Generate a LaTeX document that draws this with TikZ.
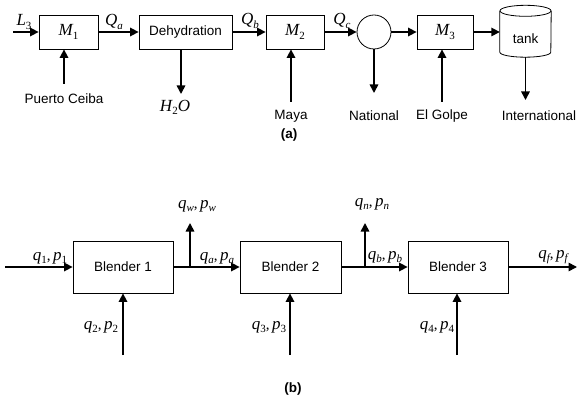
\documentclass[tikz,border=0pt]{standalone}
\usepackage{fontspec}
\setmainfont{Liberation Sans}
\newfontfamily\tms{Liberation Serif}
\usetikzlibrary{arrows.meta}
% italic serif symbol with upright or italic subscript
\newcommand\vr[1]{{\tms\itshape\fontsize{17}{17}\selectfont #1}}
\newcommand\su[1]{\raisebox{-0.45ex}{\tms\fontsize{11}{11}\selectfont #1}}
\newcommand\si[1]{\raisebox{-0.45ex}{\tms\itshape\fontsize{11}{11}\selectfont #1}}
\newcommand\cm{{\tms\fontsize{15}{15}\selectfont,\,}}
\begin{document}
\begin{tikzpicture}[x=1pt,y=-1pt,
  font=\fontsize{13.5}{15}\selectfont,
  unit/.style={draw,line width=0.8pt,minimum height=34pt,inner sep=0pt},
  blender/.style={draw,line width=0.8pt,minimum height=52pt,minimum width=100pt,inner sep=0pt},
  flow/.style={line width=1.6pt,-{Triangle[length=8.5pt,width=8.5pt]}},
  pipe/.style={line width=1.6pt},
  lbl/.style={inner sep=0pt}]
\useasboundingbox (0,0) rectangle (577,403);

% ---------- (a) crude oil flow ----------
\node[unit,minimum width=59pt] (m1) at (68.5,32) {\vr{M}\su{1}};
\node[unit,minimum width=93pt] (deh) at (185.5,32) {Dehydration};
\node[unit,minimum width=58pt] (m2) at (295,32) {\vr{M}\su{2}};
\node[draw,line width=0.8pt,circle,minimum size=34pt,inner sep=0pt] (split) at (374,32) {};
\node[unit,minimum width=56pt] (m3) at (445,32) {\vr{M}\su{3}};
\node[inner sep=0pt,minimum width=51pt,minimum height=41pt] (tank) at (525.5,31.5) {};
\node[lbl] at (525.5,39) {tank};
% storage tank outline
\draw[line width=0.8pt] (tank.north) ellipse[x radius=25.5pt,y radius=5.5pt];
\draw[line width=0.8pt] (tank.north west) -- (tank.south west)
  arc[start angle=180,end angle=360,x radius=25.5pt,y radius=5pt] -- (tank.north east);

\coordinate (l3) at (13,32);
\coordinate (pc) at (64,84);
\coordinate (h2o) at (181,94);
\coordinate (maya) at (291,102);
\coordinate (nat) at (374,93);
\coordinate (eg) at (442,102);
\coordinate (intl) at (525.5,100);

\draw[flow] (l3) -- (m1);
\draw[flow] (m1) -- (deh);
\draw[flow] (deh) -- (m2);
\draw[flow] (m2) -- (split);
\draw[flow] (split) -- (m3);
\draw[flow] (m3.east) -- (tank.west |- m3.east);
\draw[flow] (pc) -- (m1.south -| pc);
\draw[flow] (deh.south -| h2o) -- (h2o);
\draw[flow] (maya) -- (m2.south -| maya);
\draw[flow] (split.south) -- (nat);
\draw[flow] (eg) -- (m3.south -| eg);
\draw[flow] ([yshift=-5pt]tank.south) -- (intl);

\node[lbl] at (24,22) {\vr{L}\su{3}};
\node[lbl] at (114,22) {\vr{Q}\si{a}};
\node[lbl] at (250,21) {\vr{Q}\si{b}};
\node[lbl] at (342,21) {\vr{Q}\si{c}};
\node[lbl] at (64,99) {Puerto Ceiba};
\node[lbl] at (175,107) {\vr{H}\su{2}\vr{O}};
\node[lbl] at (291,116) {Maya};
\node[lbl] at (374,116) {National};
\node[lbl] at (442,116) {El Golpe};
\node[lbl] at (539,116) {International};
\node[lbl,font=\bfseries\fontsize{13.5}{15}\selectfont] at (289,135) {(a)};

% ---------- (b) blending network ----------
\node[blender] (b1) at (123,267) {Blender 1};
\node[blender,minimum width=101pt] (b2) at (290.5,267) {Blender 2};
\node[blender] (b3) at (458,267) {Blender 3};

\coordinate (in1) at (5,267);
\coordinate (ja) at (190,267);
\coordinate (jb) at (365,267);
\coordinate (wout) at (190,223);
\coordinate (nout) at (365,223);
\coordinate (fout) at (577,267);
\coordinate (in2) at (123,355);
\coordinate (in3) at (290,355);
\coordinate (in4) at (457,355);

\draw[flow] (in1) -- (b1);
\draw[pipe] (b1.east) -- (ja);
\draw[flow] (ja) -- (b2.west);
\draw[flow] (ja) -- (wout);
\draw[pipe] (b2.east) -- (jb);
\draw[flow] (jb) -- (b3.west);
\draw[flow] (jb) -- (nout);
\draw[flow] (b3.east) -- (fout);
\draw[flow] (in2) -- (b1.south -| in2);
\draw[flow] (in3) -- (b2.south -| in3);
\draw[flow] (in4) -- (b3.south -| in4);

\node[lbl] at (50,258) {\vr{q}\su{1}\cm\vr{p}\su{1}};
\node[lbl] at (217,258) {\vr{q}\si{a}\cm\vr{p}\si{a}};
\node[lbl] at (385,257) {\vr{q}\si{b}\cm\vr{p}\si{b}};
\node[lbl] at (553,257) {\vr{q}\si{f}\cm\vr{p}\si{f}};
\node[lbl] at (197,206) {\vr{q}\si{w}\cm\vr{p}\si{w}};
\node[lbl] at (372,204) {\vr{q}\si{n}\cm\vr{p}\si{n}};
\node[lbl] at (101,327) {\vr{q}\su{2}\cm\vr{p}\su{2}};
\node[lbl] at (269,327) {\vr{q}\su{3}\cm\vr{p}\su{3}};
\node[lbl] at (437,327) {\vr{q}\su{4}\cm\vr{p}\su{4}};
\node[lbl,font=\bfseries\fontsize{13.5}{15}\selectfont] at (293,389) {(b)};
\end{tikzpicture}
\end{document}
